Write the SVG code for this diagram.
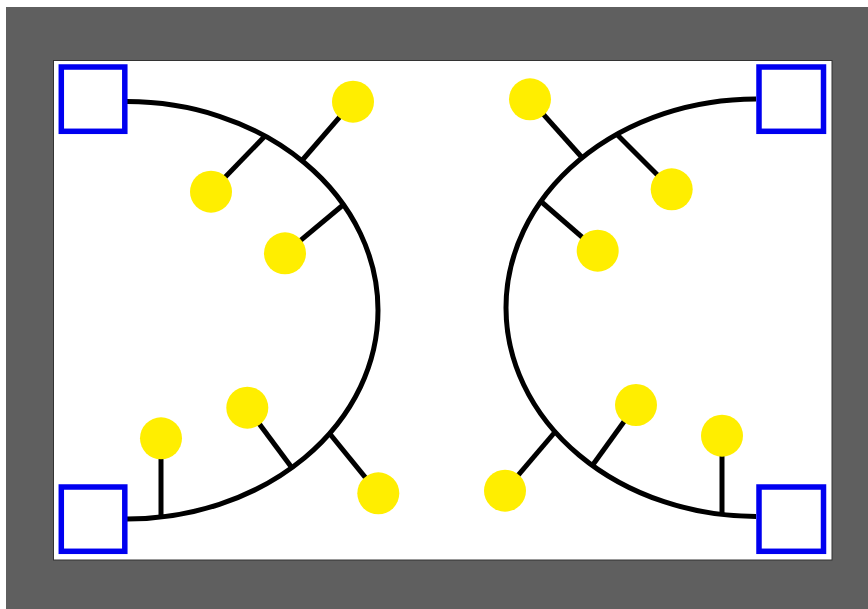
<svg xmlns="http://www.w3.org/2000/svg" width="868" height="609" viewBox="0 0 868 609">
<style>
.box{fill:#ffffff;stroke:#0000f0;stroke-width:5.5}
.leaf{fill:#ffee00;stroke:none}
.wire{fill:none;stroke:#000;stroke-width:5;stroke-linecap:butt}
</style>
<rect x="0" y="0" width="868" height="609" fill="#ffffff"/>
<rect x="6" y="7" width="862" height="602" fill="#5f5f5f"/>
<rect x="53.5" y="60.5" width="778.5" height="499.5" fill="#ffffff" stroke="#333333" stroke-width="1"/>
<g id="connectors">
<path class="wire" d="M127,101.6 A251,208.7 0 0 1 127,519"/>
<path class="wire" d="M756,99 A250,208.7 0 0 0 756,516.4"/>
<line class="wire" x1="302" y1="160.5" x2="353" y2="101.7"/>
<line class="wire" x1="265" y1="136" x2="211" y2="191.7"/>
<line class="wire" x1="343" y1="205" x2="285" y2="253.3"/>
<line class="wire" x1="161" y1="517" x2="161" y2="438.3"/>
<line class="wire" x1="291.7" y1="467.5" x2="247.3" y2="407.7"/>
<line class="wire" x1="330" y1="434" x2="378.3" y2="493.3"/>
<line class="wire" x1="582" y1="157.5" x2="530" y2="99.3"/>
<line class="wire" x1="617" y1="134.5" x2="671.7" y2="189.3"/>
<line class="wire" x1="541" y1="201.5" x2="597.7" y2="250.7"/>
<line class="wire" x1="722" y1="514.5" x2="722" y2="435.7"/>
<line class="wire" x1="592.7" y1="465" x2="636" y2="405"/>
<line class="wire" x1="555" y1="432" x2="505" y2="490.7"/>
</g>
<g id="box-tl"><rect class="box" x="61.3" y="67" width="63.5" height="64.3"/></g>
<g id="box-bl"><rect class="box" x="61.3" y="487" width="63.5" height="64.3"/></g>
<g id="box-tr"><rect class="box" x="759" y="67" width="64.5" height="64.3"/></g>
<g id="box-br"><rect class="box" x="759" y="487" width="64.5" height="64.3"/></g>
<g id="leaf-l1"><circle class="leaf" cx="353" cy="101.7" r="21"/></g>
<g id="leaf-l2"><circle class="leaf" cx="211" cy="191.7" r="21"/></g>
<g id="leaf-l3"><circle class="leaf" cx="285" cy="253.3" r="21"/></g>
<g id="leaf-l4"><circle class="leaf" cx="161" cy="438.3" r="21"/></g>
<g id="leaf-l5"><circle class="leaf" cx="247.3" cy="407.7" r="21"/></g>
<g id="leaf-l6"><circle class="leaf" cx="378.3" cy="493.3" r="21"/></g>
<g id="leaf-r1"><circle class="leaf" cx="530" cy="99.3" r="21"/></g>
<g id="leaf-r2"><circle class="leaf" cx="671.7" cy="189.3" r="21"/></g>
<g id="leaf-r3"><circle class="leaf" cx="597.7" cy="250.7" r="21"/></g>
<g id="leaf-r4"><circle class="leaf" cx="722" cy="435.7" r="21"/></g>
<g id="leaf-r5"><circle class="leaf" cx="636" cy="405" r="21"/></g>
<g id="leaf-r6"><circle class="leaf" cx="505" cy="490.7" r="21"/></g>
</svg>
